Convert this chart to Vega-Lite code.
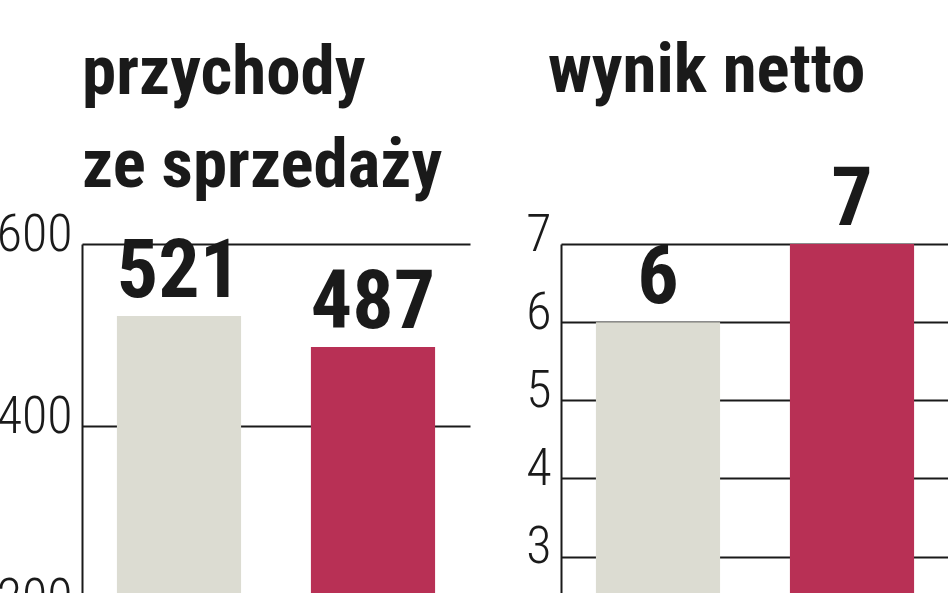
{
  "$schema": "https://vega.github.io/schema/vega-lite/v6.json",
  "padding": {"left": -4, "top": 37, "right": 0, "bottom": 0},
  "spacing": 8,
  "config": {
    "view": {"stroke": null},
    "font": "Roboto Condensed, Roboto, sans-serif",
    "axis": {
      "domainColor": "#1a1a1a",
      "domainWidth": 2,
      "gridColor": "#1a1a1a",
      "gridWidth": 2,
      "gridOpacity": 1,
      "ticks": false,
      "labelFontSize": 52,
      "labelFont": "Roboto Condensed, Roboto, sans-serif",
      "labelFontWeight": 300,
      "labelColor": "#1a1a1a",
      "labelPadding": 10,
      "labelBaseline": "middle",
      "labelOffset": -10,
      "minExtent": 83,
      "maxExtent": 83,
      "title": null
    },
    "title": {
      "anchor": "start",
      "frame": "group",
      "fontSize": 69,
      "fontWeight": "bold",
      "color": "#1a1a1a",
      "lineHeight": 93,
      "baseline": "bottom"
    }
  },
  "hconcat": [
    {
      "width": 388,
      "height": 547,
      "title": {"text": ["przychody", "ze sprzedaży"], "offset": 7},
      "data": {"values": [
        {"okres": "poprzedni", "wartosc": 521},
        {"okres": "bieżący", "wartosc": 487}
      ]},
      "encoding": {
        "x": {"field": "okres", "type": "nominal", "sort": null, "axis": null,
              "scale": {"paddingInner": 0.36, "paddingOuter": 0.18}},
        "y": {"field": "wartosc", "type": "quantitative",
              "scale": {"domain": [0, 600], "nice": false},
              "axis": {"values": [0, 200, 400, 600]}}
      },
      "layer": [
        {
          "mark": {"type": "bar"},
          "encoding": {
            "color": {"field": "okres", "type": "nominal", "sort": null, "legend": null,
                      "scale": {"domain": ["poprzedni", "bieżący"], "range": ["#dcdcd2", "#b83055"]}}
          }
        },
        {
          "mark": {"type": "text", "baseline": "alphabetic", "dy": -19, "fontSize": 82,
                   "fontWeight": "bold", "color": "#1a1a1a"},
          "encoding": {"text": {"field": "wartosc", "type": "quantitative"}}
        }
      ]
    },
    {
      "width": 388,
      "height": 547,
      "title": {"text": "wynik netto", "offset": 53, "dx": -13},
      "data": {"values": [
        {"okres": "poprzedni", "wartosc": 6},
        {"okres": "bieżący", "wartosc": 7}
      ]},
      "encoding": {
        "x": {"field": "okres", "type": "nominal", "sort": null, "axis": null,
              "scale": {"paddingInner": 0.36, "paddingOuter": 0.18}},
        "y": {"field": "wartosc", "type": "quantitative",
              "scale": {"domain": [0, 7], "nice": false},
              "axis": {"values": [0, 1, 2, 3, 4, 5, 6, 7]}}
      },
      "layer": [
        {
          "mark": {"type": "bar"},
          "encoding": {
            "color": {"field": "okres", "type": "nominal", "sort": null, "legend": null,
                      "scale": {"domain": ["poprzedni", "bieżący"], "range": ["#dcdcd2", "#b83055"]}}
          }
        },
        {
          "mark": {"type": "text", "baseline": "alphabetic", "dy": -19, "fontSize": 82,
                   "fontWeight": "bold", "color": "#1a1a1a"},
          "encoding": {"text": {"field": "wartosc", "type": "quantitative"}}
        }
      ]
    }
  ]
}
